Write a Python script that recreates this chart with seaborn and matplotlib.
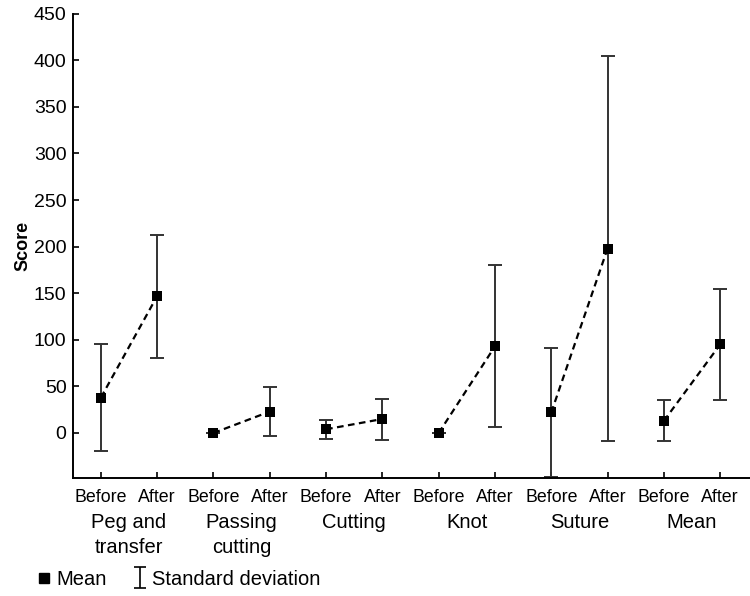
#%% Scores before and after training

import numpy as np
import pandas as pd
import matplotlib
matplotlib.use('Agg')
import matplotlib.pyplot as plt
import matplotlib.transforms as mtransforms
from matplotlib.lines import Line2D
import seaborn as sns

#%% Data

tasks = ['Peg and\ntransfer', 'Passing\ncutting', 'Cutting', 'Knot', 'Suture', 'Mean']
phases = ['Before', 'After']
mean_before = [38, 0, 4, 0, 22, 13]
mean_after = [147, 23, 15, 93, 198, 95]
sd_before = [57, 0, 10, 0, 69, 22]
sd_after = [66, 26, 22, 87, 207, 60]

rows = []
for i, t in enumerate(tasks):
    rows.append({'task': t, 'phase': 'Before', 'pos': 2 * i, 'mean': mean_before[i], 'sd': sd_before[i]})
    rows.append({'task': t, 'phase': 'After', 'pos': 2 * i + 1, 'mean': mean_after[i], 'sd': sd_after[i]})
df = pd.DataFrame(rows)

#%% Plot

sns.set_style('ticks')
plt.rcParams['font.family'] = ['Liberation Sans', 'DejaVu Sans']
plt.rcParams['text.color'] = 'black'
plt.rcParams['axes.labelcolor'] = 'black'

fig = plt.figure(figsize=(7.5, 5.96), dpi=100)
ax = fig.add_axes([0.097, 0.198, 0.903, 0.779])

ax.errorbar(df['pos'], df['mean'], yerr=df['sd'], fmt='none', ecolor='#333333',
            elinewidth=1.4, capsize=5, capthick=1.4, zorder=2)
sns.lineplot(data=df, x='pos', y='mean', units='task', estimator=None, color='black',
             linestyle=(0, (3, 2)), linewidth=1.6, ax=ax, zorder=3, legend=False)
sns.scatterplot(data=df, x='pos', y='mean', marker='s', color='black', s=60,
                edgecolor='black', linewidth=0, ax=ax, zorder=4, legend=False)

ax.set_xlim(-0.5, 11.53)
ax.set_ylim(-48.3, 450)
ax.set_yticks(np.arange(0, 451, 50))
ax.set_xticks(df['pos'])
ax.set_xticklabels(df['phase'])
ax.tick_params(axis='both', direction='in', length=4, width=1.2, colors='black')
ax.tick_params(axis='x', pad=8, labelsize=12.8)
ax.tick_params(axis='y', pad=4.5, labelsize=14)
ax.set_xlabel('')
ax.set_ylabel('Score', fontsize=13, fontweight='bold', labelpad=2)
sns.despine(ax=ax)
for side in ['left', 'bottom']:
    ax.spines[side].set_linewidth(1.4)
    ax.spines[side].set_color('black')

trans = mtransforms.blended_transform_factory(ax.transData, ax.transAxes)
for i, t in enumerate(tasks):
    ax.text(2 * i + 0.5, -0.076, t, transform=trans, ha='center', va='top',
            fontsize=14.5, linespacing=1.4)

handles = [
    Line2D([], [], marker='s', color='black', linestyle='none', markersize=7),
    ax.errorbar([np.nan], [np.nan], yerr=[1], fmt='none', ecolor='black',
                elinewidth=1.2, capsize=4, capthick=1.2),
]
fig.legend(handles, ['Mean', 'Standard deviation'], loc='lower left',
           bbox_to_anchor=(0.025, -0.018), ncol=2, frameon=False, fontsize=14.5,
           handlelength=0.7, handletextpad=0.25, columnspacing=1.3)

fig.savefig('out.png', dpi=100)
